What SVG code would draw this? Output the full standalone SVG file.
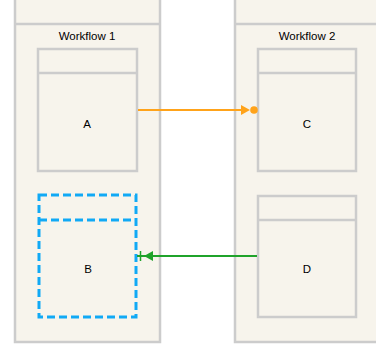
<svg xmlns="http://www.w3.org/2000/svg" width="376" height="345" viewBox="0 0 376 345">
<style>
.box{fill:#f7f4ec;stroke:#cccccc;stroke-width:2.5}
.hdr{fill:none;stroke:#cccccc;stroke-width:2.5}
.dash{fill:#f7f4ec;stroke:#11a9f5;stroke-width:3;stroke-dasharray:8 4}
.dashl{fill:none;stroke:#11a9f5;stroke-width:3;stroke-dasharray:8 4}
text{font-family:"Liberation Sans",Arial,sans-serif;font-size:11.5px;fill:#000;text-anchor:middle}
</style>
<rect width="376" height="345" fill="#ffffff"/>
<g id="workflow1">
<rect class="box" x="15" y="-5" width="145" height="347"/>
<line class="hdr" x1="15" y1="24" x2="160" y2="24"/>
<text x="87" y="40">Workflow 1</text>
</g>
<g id="workflow2">
<rect class="box" x="235" y="-5" width="150" height="347"/>
<line class="hdr" x1="235" y1="24" x2="385" y2="24"/>
<text x="307" y="40">Workflow 2</text>
</g>
<g id="A">
<rect class="box" x="38" y="49" width="99" height="122"/>
<line class="hdr" x1="38" y1="73" x2="137" y2="73"/>
<text x="87" y="128">A</text>
</g>
<g id="C">
<rect class="box" x="258" y="49" width="98" height="122"/>
<line class="hdr" x1="258" y1="73" x2="356" y2="73"/>
<text x="307" y="128">C</text>
</g>
<g id="B">
<rect class="dash" x="39" y="195" width="97" height="122"/>
<line class="dashl" x1="39" y1="220" x2="136" y2="220"/>
<text x="88" y="273">B</text>
</g>
<g id="D">
<rect class="box" x="258" y="196" width="98" height="121"/>
<line class="hdr" x1="258" y1="220" x2="356" y2="220"/>
<text x="307" y="273">D</text>
</g>
<g id="connectors">
<line x1="138" y1="110" x2="244" y2="110" stroke="#ffa31a" stroke-width="2"/>
<polygon points="241,105 250,110 241,115" fill="#ffa31a"/>
<circle cx="254" cy="110" r="3.8" fill="#ffa31a"/>
<line x1="257" y1="256" x2="137" y2="256" stroke="#1fa32a" stroke-width="2"/>
<polygon points="153,251 144,256 153,261" fill="#1fa32a"/>
<line x1="140.5" y1="251" x2="140.5" y2="261" stroke="#1fa32a" stroke-width="1.5"/>
</g>
</svg>
